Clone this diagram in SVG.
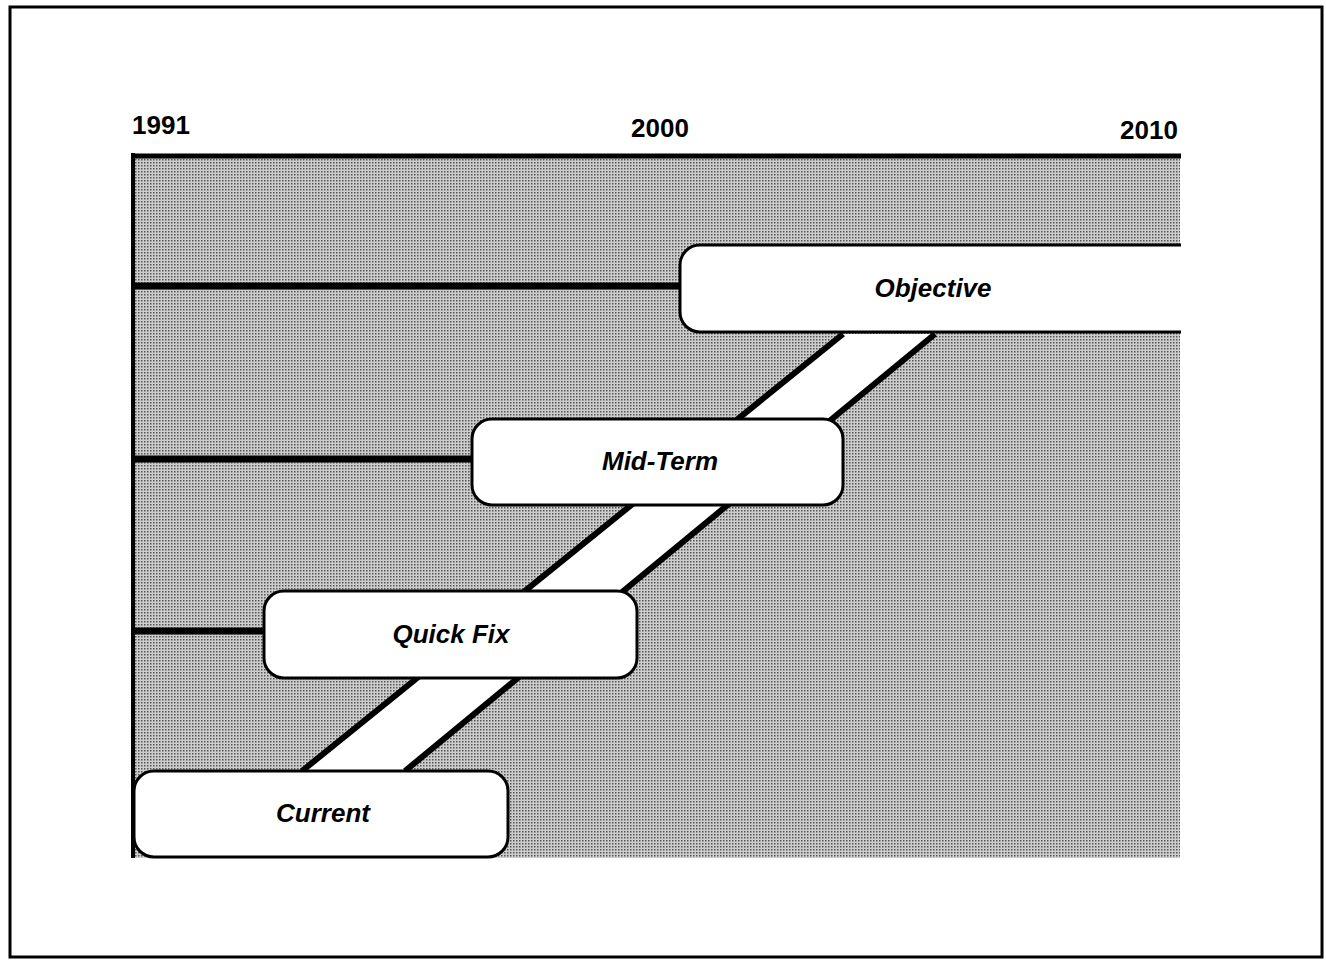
<svg xmlns="http://www.w3.org/2000/svg" width="1326" height="962" viewBox="0 0 1326 962">
<defs>
<pattern id="dots" width="3" height="3" patternUnits="userSpaceOnUse">
<rect width="3" height="3" fill="#cdcdcd"/>
<rect x="0" y="0" width="1.5" height="1.5" fill="#555"/>
</pattern>
</defs>
<style>
.year{font-family:"Liberation Sans",Arial,sans-serif;font-weight:bold;font-size:26px;fill:#000}
.lbl{font-family:"Liberation Sans",Arial,sans-serif;font-weight:bold;font-style:italic;font-size:26px;fill:#000;text-anchor:middle}
.box{fill:#fff;stroke:#000;stroke-width:3}
.conn{stroke:#000;stroke-width:7;fill:none}
.edge{stroke:#000;stroke-width:6;fill:none}
</style>
<rect x="0" y="0" width="1326" height="962" fill="#fff"/>
<rect x="10" y="7" width="1312" height="950" fill="none" stroke="#000" stroke-width="3"/>
<rect x="133" y="156" width="1047" height="702" fill="url(#dots)"/>
<g id="years">
<text class="year" x="132" y="134">1991</text>
<text class="year" x="631" y="137">2000</text>
<text class="year" x="1120" y="139">2010</text>
</g>
<g id="band">
<polygon points="302,771 843,334 935,334 405,771" fill="#fff"/>
<line class="edge" x1="302" y1="771" x2="843" y2="334"/>
<line class="edge" x1="405" y1="771" x2="935" y2="334"/>
</g>
<g id="connectors">
<line x1="133" y1="156" x2="1181" y2="156" stroke="#000" stroke-width="5"/>
<line x1="133" y1="153" x2="133" y2="858" stroke="#000" stroke-width="4"/>
<line class="conn" x1="133" y1="286" x2="682" y2="286"/>
<line class="conn" x1="133" y1="459" x2="474" y2="459"/>
<line class="conn" x1="133" y1="631" x2="266" y2="631"/>
</g>
<g id="objective">
<path class="box" d="M1181,245 H700 A20,20 0 0 0 680,265 V312 A20,20 0 0 0 700,332 H1181"/>
<text class="lbl" x="933" y="297">Objective</text>
</g>
<g id="midterm">
<rect class="box" x="472" y="419" width="371" height="86" rx="20" ry="20"/>
<text class="lbl" x="660" y="470">Mid-Term</text>
</g>
<g id="quickfix">
<rect class="box" x="264" y="591" width="373" height="87" rx="20" ry="20"/>
<text class="lbl" x="451" y="643">Quick Fix</text>
</g>
<g id="current">
<rect class="box" x="134" y="771" width="374" height="86" rx="20" ry="20"/>
<text class="lbl" x="323" y="822">Current</text>
</g>
</svg>
